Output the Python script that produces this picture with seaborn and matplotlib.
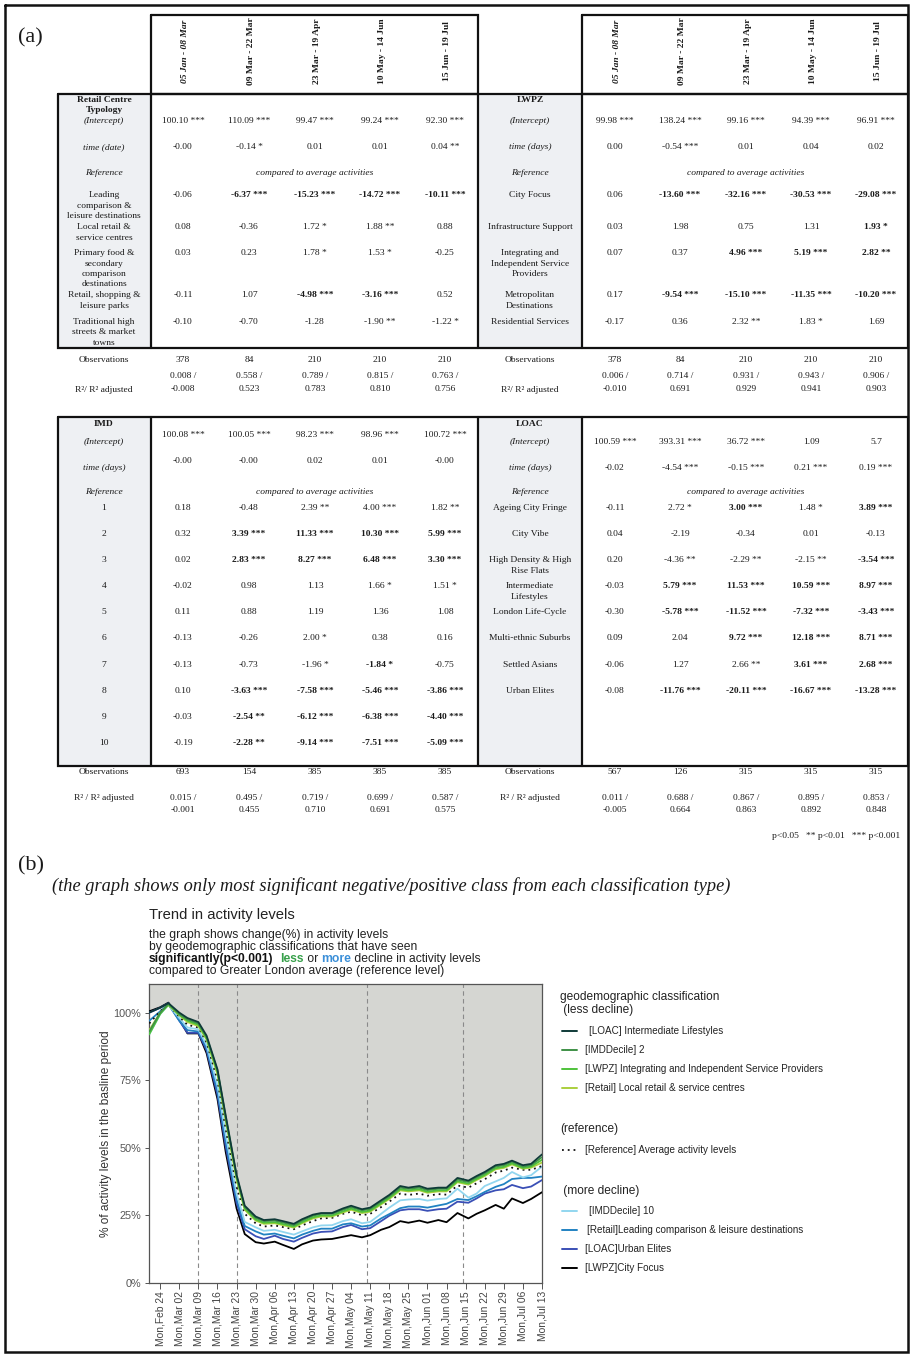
import numpy as np
import pandas as pd
import matplotlib
matplotlib.use("Agg")
import matplotlib.pyplot as plt
from matplotlib.ticker import PercentFormatter
import seaborn as sns

sns.set_style("white")
plt.rcParams["font.family"] = ["Liberation Serif", "DejaVu Serif"]

SERIF = "Liberation Serif"
SANS = "Liberation Sans"
INK = "#1a1a1a"
PANEL = "#eef0f3"

# ------------------------------------------------------------------
# Regression tables (a)
# ------------------------------------------------------------------
periods = ["05 Jan - 08 Mar", "09 Mar - 22 Mar", "23 Mar - 19 Apr",
           "10 May - 14 Jun", "15 Jun - 19 Jul"]

retail_title = "Retail Centre\nTypology"
retail_classes = ["Leading\ncomparison &\nleisure destinations",
                  "Local retail &\nservice centres",
                  "Primary food &\nsecondary\ncomparison\ndestinations",
                  "Retail, shopping &\nleisure parks",
                  "Traditional high\nstreets & market\ntowns"]
retail_intercept = ["100.10 ***", "110.09 ***", "99.47 ***", "99.24 ***", "92.30 ***"]
retail_time = ["-0.00", "-0.14 *", "0.01", "0.01", "0.04 **"]
retail_coef = [["-0.06", "-6.37 ***", "-15.23 ***", "-14.72 ***", "-10.11 ***"],
               ["0.08", "-0.36", "1.72 *", "1.88 **", "0.88"],
               ["0.03", "0.23", "1.78 *", "1.53 *", "-0.25"],
               ["-0.11", "1.07", "-4.98 ***", "-3.16 ***", "0.52"],
               ["-0.10", "-0.70", "-1.28", "-1.90 **", "-1.22 *"]]
retail_bold = [[0, 1, 1, 1, 1], [0, 0, 0, 0, 0], [0, 0, 0, 0, 0],
               [0, 0, 1, 1, 0], [0, 0, 0, 0, 0]]
retail_obs = ["378", "84", "210", "210", "210"]
retail_r2 = [("0.008 /", "-0.008"), ("0.558 /", "0.523"), ("0.789 /", "0.783"),
             ("0.815 /", "0.810"), ("0.763 /", "0.756")]

lwpz_title = "LWPZ"
lwpz_classes = ["City Focus", "Infrastructure Support",
                "Integrating and\nIndependent Service\nProviders",
                "Metropolitan\nDestinations", "Residential Services"]
lwpz_intercept = ["99.98 ***", "138.24 ***", "99.16 ***", "94.39 ***", "96.91 ***"]
lwpz_time = ["0.00", "-0.54 ***", "0.01", "0.04", "0.02"]
lwpz_coef = [["0.06", "-13.60 ***", "-32.16 ***", "-30.53 ***", "-29.08 ***"],
             ["0.03", "1.98", "0.75", "1.31", "1.93 *"],
             ["0.07", "0.37", "4.96 ***", "5.19 ***", "2.82 **"],
             ["0.17", "-9.54 ***", "-15.10 ***", "-11.35 ***", "-10.20 ***"],
             ["-0.17", "0.36", "2.32 **", "1.83 *", "1.69"]]
lwpz_bold = [[0, 1, 1, 1, 1], [0, 0, 0, 0, 1], [0, 0, 1, 1, 1],
             [0, 1, 1, 1, 1], [0, 0, 0, 0, 0]]
lwpz_obs = ["378", "84", "210", "210", "210"]
lwpz_r2 = [("0.006 /", "-0.010"), ("0.714 /", "0.691"), ("0.931 /", "0.929"),
           ("0.943 /", "0.941"), ("0.906 /", "0.903")]

imd_title = "IMD"
imd_classes = ["1", "2", "3", "4", "5", "6", "7", "8", "9", "10"]
imd_intercept = ["100.08 ***", "100.05 ***", "98.23 ***", "98.96 ***", "100.72 ***"]
imd_time = ["-0.00", "-0.00", "0.02", "0.01", "-0.00"]
imd_coef = [["0.18", "-0.48", "2.39 **", "4.00 ***", "1.82 **"],
            ["0.32", "3.39 ***", "11.33 ***", "10.30 ***", "5.99 ***"],
            ["0.02", "2.83 ***", "8.27 ***", "6.48 ***", "3.30 ***"],
            ["-0.02", "0.98", "1.13", "1.66 *", "1.51 *"],
            ["0.11", "0.88", "1.19", "1.36", "1.08"],
            ["-0.13", "-0.26", "2.00 *", "0.38", "0.16"],
            ["-0.13", "-0.73", "-1.96 *", "-1.84 *", "-0.75"],
            ["0.10", "-3.63 ***", "-7.58 ***", "-5.46 ***", "-3.86 ***"],
            ["-0.03", "-2.54 **", "-6.12 ***", "-6.38 ***", "-4.40 ***"],
            ["-0.19", "-2.28 **", "-9.14 ***", "-7.51 ***", "-5.09 ***"]]
imd_bold = [[0, 0, 0, 0, 0], [0, 1, 1, 1, 1], [0, 1, 1, 1, 1], [0, 0, 0, 0, 0],
            [0, 0, 0, 0, 0], [0, 0, 0, 0, 0], [0, 0, 0, 1, 0], [0, 1, 1, 1, 1],
            [0, 1, 1, 1, 1], [0, 1, 1, 1, 1]]
imd_obs = ["693", "154", "385", "385", "385"]
imd_r2 = [("0.015 /", "-0.001"), ("0.495 /", "0.455"), ("0.719 /", "0.710"),
          ("0.699 /", "0.691"), ("0.587 /", "0.575")]

loac_title = "LOAC"
loac_classes = ["Ageing City Fringe", "City Vibe", "High Density & High\nRise Flats",
                "Intermediate\nLifestyles", "London Life-Cycle",
                "Multi-ethnic Suburbs", "Settled Asians", "Urban Elites"]
loac_intercept = ["100.59 ***", "393.31 ***", "36.72 ***", "1.09", "5.7"]
loac_time = ["-0.02", "-4.54 ***", "-0.15 ***", "0.21 ***", "0.19 ***"]
loac_coef = [["-0.11", "2.72 *", "3.00 ***", "1.48 *", "3.89 ***"],
             ["0.04", "-2.19", "-0.34", "0.01", "-0.13"],
             ["0.20", "-4.36 **", "-2.29 **", "-2.15 **", "-3.54 ***"],
             ["-0.03", "5.79 ***", "11.53 ***", "10.59 ***", "8.97 ***"],
             ["-0.30", "-5.78 ***", "-11.52 ***", "-7.32 ***", "-3.43 ***"],
             ["0.09", "2.04", "9.72 ***", "12.18 ***", "8.71 ***"],
             ["-0.06", "1.27", "2.66 **", "3.61 ***", "2.68 ***"],
             ["-0.08", "-11.76 ***", "-20.11 ***", "-16.67 ***", "-13.28 ***"]]
loac_bold = [[0, 0, 1, 0, 1], [0, 0, 0, 0, 0], [0, 0, 0, 0, 1], [0, 1, 1, 1, 1],
             [0, 1, 1, 1, 1], [0, 0, 1, 1, 1], [0, 0, 0, 1, 1], [0, 1, 1, 1, 1]]
loac_obs = ["567", "126", "315", "315", "315"]
loac_r2 = [("0.011 /", "-0.005"), ("0.688 /", "0.664"), ("0.867 /", "0.863"),
           ("0.895 /", "0.892"), ("0.853 /", "0.848")]

# ------------------------------------------------------------------
# Activity trend series (b), % of baseline activity
# ------------------------------------------------------------------
dates = ["2020-02-20", "2020-02-24", "2020-02-27", "2020-03-02", "2020-03-05",
         "2020-03-09", "2020-03-12", "2020-03-16", "2020-03-19", "2020-03-23",
         "2020-03-26", "2020-03-30", "2020-04-02", "2020-04-06", "2020-04-09",
         "2020-04-13", "2020-04-16", "2020-04-20", "2020-04-23", "2020-04-27",
         "2020-05-01", "2020-05-04", "2020-05-08", "2020-05-11", "2020-05-15",
         "2020-05-18", "2020-05-22", "2020-05-25", "2020-05-29", "2020-06-01",
         "2020-06-05", "2020-06-08", "2020-06-12", "2020-06-16", "2020-06-19",
         "2020-06-22", "2020-06-26", "2020-06-29", "2020-07-02", "2020-07-06",
         "2020-07-09", "2020-07-13"]

loac_intermediate = [100.0, 101.8, 103.5, 100.0, 98.0, 96.5, 91.5, 79.0, 62.0, 40.0,
                     28.5, 24.5, 23.2, 23.5, 22.8, 21.8, 23.5, 25.2, 25.8, 25.8,
                     27.5, 28.5, 27.2, 27.8, 30.5, 32.5, 35.8, 35.2, 35.8, 34.8,
                     35.2, 35.2, 38.8, 37.8, 39.5, 41.0, 43.5, 44.0, 45.2, 43.5,
                     44.0, 47.5]
imd_decile2 = [93.0, 100.0, 103.3, 99.5, 97.5, 96.0, 91.0, 78.5, 61.5, 39.5,
               28.0, 24.0, 22.8, 23.0, 22.3, 21.3, 23.0, 24.8, 25.5, 25.5,
               27.0, 28.0, 26.8, 27.3, 30.0, 32.0, 35.2, 34.8, 35.2, 34.3,
               34.8, 34.8, 38.2, 37.3, 39.0, 40.5, 43.0, 43.5, 44.8, 43.0,
               43.5, 46.5]
lwpz_integrating = [92.0, 99.5, 103.0, 99.2, 97.0, 95.5, 90.5, 78.0, 61.0, 39.0,
                    27.5, 23.4, 22.2, 22.4, 21.7, 20.8, 22.4, 24.2, 24.9, 24.9,
                    26.4, 27.4, 26.2, 26.7, 29.4, 31.4, 34.6, 34.2, 34.6, 33.7,
                    34.2, 34.2, 37.6, 36.7, 38.4, 39.9, 42.4, 42.9, 44.2, 42.5,
                    43.0, 45.5]
retail_local = [93.5, 100.0, 102.8, 99.0, 96.5, 95.0, 90.0, 77.0, 60.0, 38.0,
                27.0, 23.0, 21.8, 22.0, 21.3, 20.4, 22.0, 23.8, 24.5, 24.5,
                26.0, 27.0, 25.8, 26.3, 29.0, 31.0, 34.2, 33.8, 34.2, 33.3,
                33.8, 33.8, 37.2, 36.3, 38.0, 39.5, 42.0, 42.5, 43.8, 42.2,
                42.6, 44.5]
reference_avg = [96.0, 100.5, 103.0, 98.5, 95.5, 94.5, 89.0, 75.0, 57.0, 35.5,
                 25.5, 22.0, 20.8, 21.2, 20.6, 19.8, 21.2, 22.8, 23.8, 24.0,
                 25.5, 26.3, 25.0, 25.5, 28.0, 30.0, 33.0, 32.5, 33.0, 32.2,
                 32.8, 32.6, 36.0, 35.2, 36.8, 38.3, 40.8, 41.5, 42.6, 41.8,
                 41.8, 43.2]
imd_decile10 = [92.0, 99.5, 102.8, 98.0, 94.5, 93.8, 88.0, 73.0, 55.0, 33.0,
                22.5, 20.5, 19.2, 19.6, 18.8, 17.8, 19.0, 20.5, 21.2, 21.3,
                22.8, 23.5, 22.0, 22.5, 25.5, 27.8, 30.5, 30.8, 31.0, 30.4,
                31.0, 31.2, 34.8, 31.5, 33.0, 35.8, 37.5, 38.8, 41.0, 39.0,
                39.8, 43.0]
retail_leading = [97.0, 100.5, 103.0, 97.0, 93.5, 93.0, 87.0, 71.0, 52.5, 31.0,
                  21.0, 19.0, 17.8, 18.2, 17.4, 16.4, 17.8, 19.2, 20.0, 20.0,
                  21.6, 22.0, 20.8, 21.2, 23.8, 25.4, 27.6, 28.2, 28.2, 27.8,
                  28.6, 29.2, 31.0, 30.6, 32.0, 33.6, 35.5, 36.5, 38.4, 38.8,
                  38.8, 39.3]
loac_urban_elites = [100.0, 101.8, 103.5, 97.0, 92.5, 92.5, 86.0, 69.5, 50.5, 29.5,
                     19.8, 17.2, 16.2, 17.4, 16.2, 15.2, 16.6, 18.2, 18.8, 19.0,
                     20.6, 21.4, 19.8, 20.2, 22.8, 24.8, 26.8, 27.2, 27.2, 26.6,
                     27.2, 27.4, 30.0, 29.6, 31.2, 33.0, 34.2, 34.6, 36.2, 35.0,
                     35.6, 38.0]
lwpz_city_focus = [100.5, 102.0, 103.7, 97.5, 92.3, 92.3, 85.0, 68.0, 48.5, 27.5,
                   18.0, 15.0, 14.5, 15.2, 14.0, 12.5, 14.2, 15.6, 16.0, 16.2,
                   17.0, 17.6, 16.8, 17.6, 19.6, 20.6, 22.8, 22.2, 23.0, 22.2,
                   23.2, 22.4, 25.8, 23.8, 25.5, 26.8, 28.8, 27.4, 31.2, 29.5,
                   31.0, 33.5]

series_names = ["[LOAC] Intermediate Lifestyles", "[IMDDecile] 2",
                "[LWPZ] Integrating and Independent Service Providers",
                "[Retail] Local retail & service centres",
                "[Reference] Average activity levels",
                "[IMDDecile] 10", "[Retail]Leading comparison & leisure destinations",
                "[LOAC]Urban Elites", "[LWPZ]City Focus"]
series_values = [loac_intermediate, imd_decile2, lwpz_integrating, retail_local,
                 reference_avg, imd_decile10, retail_leading, loac_urban_elites,
                 lwpz_city_focus]
series_colors = ["#0f3a38", "#3e9146", "#4fc23b", "#abcf3d", "#111111",
                 "#92d6ef", "#2182c2", "#3a4fb6", "#000000"]
period_breaks = ["2020-03-09", "2020-03-23", "2020-05-10", "2020-06-14"]

# ------------------------------------------------------------------
fig = plt.figure(figsize=(9.1, 13.54), dpi=100)
ax0 = fig.add_axes([0, 0, 1, 1])
ax0.set_xlim(0, 910)
ax0.set_ylim(1354, 0)
ax0.axis("off")

FS = 6.8
LINE_H = 10.5


def put(x, y, s, bold=False, italic=False, size=FS, ha="center", color=INK):
    ax0.text(x, y, s, ha=ha, va="center", fontsize=size, family=SERIF,
             fontweight="bold" if bold else "normal",
             fontstyle="italic" if italic else "normal", color=color)


def put_lines(x, y, s, bold=False, italic=False):
    for i, part in enumerate(s.split("\n")):
        put(x, y + i * LINE_H, part, bold=bold, italic=italic)


def frame(x0, y0, x1, y1, lw=1.6):
    ax0.plot([x0, x1, x1, x0, x0], [y0, y0, y1, y1, y0], color="#111111",
             lw=lw, solid_joinstyle="miter")


def vline(x, y0, y1, lw=1.6):
    ax0.plot([x, x], [y0, y1], color="#111111", lw=lw)


def draw_table(x_lab, x_col, title, classes, intercept, timecoef, coef, bold,
               obs, r2, time_label, y_title, y_int, y_int_val, y_time,
               y_time_val, y_ref, y_rows, y_obs, y_r2lab, y_r2, r2_label):
    put_lines(x_lab, y_title, title, bold=True)
    put(x_lab, y_int, "(Intercept)", italic=True)
    put(x_lab, y_time, time_label, italic=True)
    put(x_lab, y_ref, "Reference", italic=True)
    put(x_col[2], y_ref, "compared to average activities", italic=True)
    for xc, v in zip(x_col, intercept):
        put(xc, y_int_val, v)
    for xc, v in zip(x_col, timecoef):
        put(xc, y_time_val, v)
    for yr, name, row, brow in zip(y_rows, classes, coef, bold):
        put_lines(x_lab, yr, name)
        for xc, v, b in zip(x_col, row, brow):
            put(xc, yr, v, bold=bool(b))
    put(x_lab, y_obs, "Observations")
    for xc, v in zip(x_col, obs):
        put(xc, y_obs, v)
    put(x_lab, y_r2lab, r2_label)
    for xc, (a, b) in zip(x_col, r2):
        put(xc, y_r2[0], a)
        put(xc, y_r2[1], b)


LEFT_COLS = [183, 249, 315, 380, 445]
RIGHT_COLS = [615, 680, 746, 811, 876]

# table frames and shaded label columns
for (a, b) in [(58, 151), (478, 582)]:
    ax0.add_patch(plt.Rectangle((a, 94), b - a, 254, color=PANEL, lw=0))
    ax0.add_patch(plt.Rectangle((a, 417), b - a, 349, color=PANEL, lw=0))
frame(151, 15, 478, 94)
frame(582, 15, 908, 94)
frame(58, 94, 908, 348)
vline(151, 94, 348)
vline(478, 94, 348)
vline(582, 94, 348)
frame(58, 417, 908, 766)
vline(151, 417, 766)
vline(478, 417, 766)
vline(582, 417, 766)

# rotated period headers
for cols in (LEFT_COLS, RIGHT_COLS):
    for i, (xc, p) in enumerate(zip(cols, periods)):
        ax0.text(xc + 2, 51, p, rotation=90, ha="center", va="center",
                 fontsize=FS, family=SERIF, fontweight="bold",
                 fontstyle="italic" if i == 0 else "normal", color=INK)

top_rows = [195, 227, 253, 295, 322]
draw_table(104, LEFT_COLS, retail_title, retail_classes, retail_intercept,
           retail_time, retail_coef, retail_bold, retail_obs, retail_r2,
           "time (date)", 100, 121, 121, 147, 147, 173, top_rows, 360, 390,
           (376, 389), "R\u00b2/ R\u00b2 adjusted")
draw_table(530, RIGHT_COLS, lwpz_title, lwpz_classes, lwpz_intercept,
           lwpz_time, lwpz_coef, lwpz_bold, lwpz_obs, lwpz_r2,
           "time (days)", 100, 121, 121, 147, 147, 173, top_rows, 360, 390,
           (376, 389), "R\u00b2/ R\u00b2 adjusted")

bottom_rows = [508 + 26.1 * i for i in range(10)]
draw_table(104, LEFT_COLS, imd_title, imd_classes, imd_intercept, imd_time,
           imd_coef, imd_bold, imd_obs, imd_r2, "time (days)", 424, 442, 435,
           468, 461, 492, bottom_rows, 772, 798, (798, 810),
           "R\u00b2 / R\u00b2 adjusted")
draw_table(530, RIGHT_COLS, loac_title, loac_classes, loac_intercept,
           loac_time, loac_coef, loac_bold, loac_obs, loac_r2, "time (days)",
           424, 442, 442, 468, 468, 492, bottom_rows, 772, 798, (798, 810),
           "R\u00b2 / R\u00b2 adjusted")

put(900, 836, "p<0.05   ** p<0.01   *** p<0.001", ha="right")

# panel letters and outer frame
ax0.text(18, 38, "(a)", fontsize=16, family=SERIF, va="center", ha="left", color=INK)
ax0.text(18, 866, "(b)", fontsize=16, family=SERIF, va="center", ha="left", color=INK)
ax0.text(52, 886, "(the graph shows only most significant negative/positive class "
         "from each classification type)", fontsize=13.2, family=SERIF,
         fontstyle="italic", va="center", ha="left", color=INK)
frame(5, 5, 908, 1352, lw=1.8)

# ------------------------------------------------------------------
# Trend chart
# ------------------------------------------------------------------
date_index = pd.to_datetime(dates)
long = pd.concat([pd.DataFrame({"date": date_index, "value": vals, "series": name})
                  for name, vals in zip(series_names, series_values)],
                 ignore_index=True)
palette = dict(zip(series_names, series_colors))
dash_map = {n: "" for n in series_names}
dash_map["[Reference] Average activity levels"] = (1, 2.2)

ax = fig.add_axes([149.3 / 910, 1 - 1282.7 / 1354, (542 - 149.3) / 910,
                   (1282.7 - 984) / 1354])
ax.set_facecolor("white")
Y_TOP = 110.6
upper = long.groupby("date")["value"].max()
ax.fill_between(upper.index, upper.values, Y_TOP, color="#d5d6d2", lw=0, zorder=0)
for d in pd.to_datetime(period_breaks):
    ax.axvline(d, color="#8a8a8a", lw=0.8, ls=(0, (4, 3)), zorder=1)

draw_order = list(reversed(series_names))
sns.lineplot(data=long, x="date", y="value", hue="series", style="series",
             hue_order=draw_order, style_order=draw_order, palette=palette,
             dashes=dash_map, linewidth=1.3, legend=False, ax=ax, zorder=3)

ax.set_xlim(pd.Timestamp("2020-02-20"), pd.Timestamp("2020-07-13"))
ax.set_ylim(0, Y_TOP)
ax.set_yticks([0, 25, 50, 75, 100])
ax.yaxis.set_major_formatter(PercentFormatter(xmax=100, decimals=0))
ticks = pd.date_range("2020-02-24", "2020-07-13", freq="7D")
ax.set_xticks(ticks)
ax.set_xticklabels([t.strftime("%a,%b %d") for t in ticks], rotation=90,
                   family=SANS, fontsize=7.4, color="#444444")
for lab in ax.get_yticklabels():
    lab.set_family(SANS)
    lab.set_fontsize(7.8)
    lab.set_color("#555555")
ax.tick_params(axis="x", length=4, width=0.7, color="#555555", pad=2, bottom=True)
ax.tick_params(axis="y", length=3, width=0.7, color="#555555", pad=3, left=True)
ax.set_xlabel("")
ax.set_ylabel("% of activity levels in the basline period", family=SANS,
              fontsize=8.6, color="#333333", labelpad=1)
for s in ax.spines.values():
    s.set_color("#555555")
    s.set_linewidth(0.9)

# chart title block
SUB = 8.7
ax0.text(149, 915, "Trend in activity levels", family=SANS, fontsize=10.6,
         va="center", ha="left", color="#222222")
sub = ["the graph shows change(%) in activity levels",
       "by geodemographic classifications that have seen"]
for i, s in enumerate(sub):
    ax0.text(149, 935 + i * 12, s, family=SANS, fontsize=SUB, va="center",
             ha="left", color="#222222")
ax0.text(149, 971, "compared to Greater London average (reference level)",
         family=SANS, fontsize=SUB, va="center", ha="left", color="#222222")

fig.canvas.draw()
renderer = fig.canvas.get_renderer()
inv = ax0.transData.inverted()
x_cursor = 149
pieces = [("significantly(p<0.001)", "bold", "#111111"), ("  ", "normal", "#222222"),
          ("less", "bold", "#37a04a"), (" or ", "normal", "#222222"),
          ("more", "bold", "#3b8fd8"), (" decline in activity levels", "normal", "#222222")]
for s, w, c in pieces:
    t = ax0.text(x_cursor, 959, s, family=SANS, fontsize=SUB, fontweight=w,
                 va="center", ha="left", color=c)
    bb = t.get_window_extent(renderer=renderer)
    x_cursor = inv.transform((bb.x1, bb.y0))[0]

# legend
LG = 8.6
LE = 7.1
ax0.text(560, 997, "geodemographic classification", family=SANS, fontsize=LG,
         va="center", ha="left", color="#222222")
ax0.text(560, 1010, " (less decline)", family=SANS, fontsize=LG, va="center",
         ha="left", color="#222222")
ax0.text(560, 1129, "(reference)", family=SANS, fontsize=LG, va="center",
         ha="left", color="#222222")
ax0.text(560, 1191, " (more decline)", family=SANS, fontsize=LG, va="center",
         ha="left", color="#222222")
legend_y = [1031, 1050, 1069, 1088, 1150, 1211, 1230, 1249, 1268]
legend_txt_x = [589, 585, 585, 585, 585, 589, 587, 585, 585]
for name, col, yy, tx in zip(series_names, series_colors, legend_y, legend_txt_x):
    if name.startswith("[Reference]"):
        ax0.plot([562, 577], [yy, yy], color=col, lw=1.3, ls=(0, (1, 2.2)))
    else:
        ax0.plot([562, 577], [yy, yy], color=col, lw=1.4)
    ax0.text(tx, yy, name, family=SANS, fontsize=LE, va="center", ha="left",
             color="#222222")

fig.savefig("out.png", dpi=100)
